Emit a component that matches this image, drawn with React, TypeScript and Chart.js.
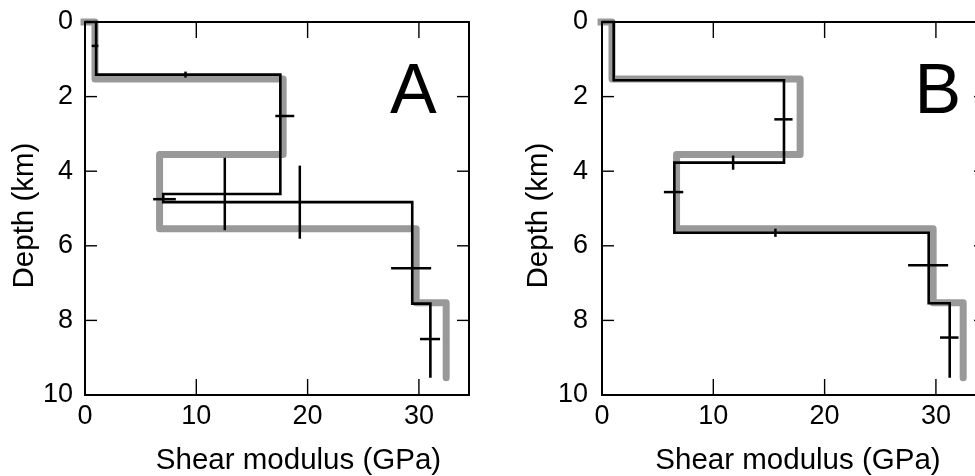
import { useEffect, useRef } from "react";
import { Chart, registerables } from "chart.js";

Chart.register(...registerables);

const FONT = '"Liberation Sans", Arial, Helvetica, sans-serif';

// Axis ranges
const modulusMax = 34.5;
const depthMax = 10;
const modulusStep = 10;
const depthStep = 2;

// Reference (true) layered model, shared by both panels
const trueModulus = [0.9, 17.8, 6.7, 29.75, 32.45];
const trueInterfaces = [1.53, 3.55, 5.54, 7.53];
const trueBottom = 9.54;

// Panel A: inverted model
const modulusA = [1.0, 17.55, 7.03, 29.4, 31.03];
const interfacesA = [1.41, 4.61, 4.83, 7.55];
const bottomA = 9.54;
// Panel A: modulus uncertainty bars (centre, depth, half-width)
const modBarXA = [0.9, 17.95, 7.14, 29.3, 31.0];
const modBarDepthA = [0.64, 2.52, 4.75, 6.6, 8.5];
const modBarHalfA = [0.3, 0.85, 1.02, 1.8, 0.9];
// Panel A: interface depth uncertainty bars (modulus, depth, half-height)
const depthBarXA = [9.03, 12.56, 19.3];
const depthBarDepthA = [1.41, 4.61, 4.83];
const depthBarHalfA = [0.08, 0.97, 0.98];

// Panel B: inverted model
const modulusB = [1.05, 16.35, 6.5, 29.35, 31.24];
const interfacesB = [1.56, 3.77, 5.65, 7.54];
const bottomB = 9.54;
const modBarXB = [16.3, 6.43, 29.3, 31.2];
const modBarDepthB = [2.61, 4.56, 6.52, 8.46];
const modBarHalfB = [0.82, 0.87, 1.8, 0.83];
const depthBarXB = [11.78, 15.58];
const depthBarDepthB = [3.77, 5.65];
const depthBarHalfB = [0.19, 0.11];

type Pt = { x: number; y: number };

// Build a depth profile as a staircase: constant modulus within each layer.
function staircase(mod: number[], iface: number[], bottom: number, x0: number): Pt[] {
  const pts: Pt[] = [
    { x: x0, y: 0 },
    { x: mod[0], y: 0 },
  ];
  for (let i = 0; i < iface.length; i++) {
    pts.push({ x: mod[i], y: iface[i] }, { x: mod[i + 1], y: iface[i] });
  }
  pts.push({ x: mod[mod.length - 1], y: bottom });
  return pts;
}

type PanelProps = {
  left: number;
  width: number;
  letter: string;
  letterX: number;
  letterDepth: number;
  yAxisWidth: number;
  padRight: number;
  yTickPad: number;
  xTitleShift: number;
  yTitleGap: number;
  modulus: number[];
  interfaces: number[];
  bottom: number;
  modBarX: number[];
  modBarDepth: number[];
  modBarHalf: number[];
  depthBarX: number[];
  depthBarDepth: number[];
  depthBarHalf: number[];
};

function Panel(p: PanelProps) {
  const ref = useRef<HTMLCanvasElement | null>(null);

  useEffect(() => {
    const canvas = ref.current;
    if (!canvas) return;

    const decor = {
      id: "decor",
      afterDatasetsDraw(chart: any) {
        const { ctx, chartArea: a } = chart;
        const xs = chart.scales.x;
        const ys = chart.scales.y;
        const seg = (x1: number, y1: number, x2: number, y2: number) => {
          ctx.beginPath();
          ctx.moveTo(x1, y1);
          ctx.lineTo(x2, y2);
          ctx.stroke();
        };
        ctx.save();
        ctx.strokeStyle = "#000";
        ctx.lineCap = "butt";

        // uncertainty bars
        ctx.lineWidth = 2.5;
        p.modBarX.forEach((m, i) => {
          const py = ys.getPixelForValue(p.modBarDepth[i]);
          seg(
            xs.getPixelForValue(m - p.modBarHalf[i]),
            py,
            xs.getPixelForValue(m + p.modBarHalf[i]),
            py
          );
        });
        p.depthBarX.forEach((m, i) => {
          const px = xs.getPixelForValue(m);
          seg(
            px,
            ys.getPixelForValue(p.depthBarDepth[i] - p.depthBarHalf[i]),
            px,
            ys.getPixelForValue(p.depthBarDepth[i] + p.depthBarHalf[i])
          );
        });

        // frame
        ctx.lineWidth = 2;
        ctx.strokeRect(a.left, a.top, a.right - a.left, a.bottom - a.top);

        // inward tick marks on all four sides
        ctx.lineWidth = 1.4;
        xs.ticks.forEach((t: any) => {
          const px = xs.getPixelForValue(t.value);
          seg(px, a.bottom, px, a.bottom - 16);
          seg(px, a.top, px, a.top + 16);
        });
        ys.ticks.forEach((t: any) => {
          const py = ys.getPixelForValue(t.value);
          seg(a.left, py, a.left + 12, py);
          seg(a.right, py, a.right - 12, py);
        });

        // axis titles
        ctx.fillStyle = "#000";
        ctx.font = `29.5px ${FONT}`;
        ctx.textAlign = "center";
        ctx.textBaseline = "alphabetic";
        ctx.fillText(
          "Shear modulus (GPa)",
          (a.left + a.right) / 2 + p.xTitleShift,
          a.bottom + 73.5
        );
        ctx.save();
        ctx.translate(a.left - p.yTitleGap, (a.top + a.bottom) / 2 + 7);
        ctx.rotate(-Math.PI / 2);
        ctx.fillText("Depth (km)", 0, 0);
        ctx.restore();

        // panel letter
        ctx.font = `70px ${FONT}`;
        ctx.textAlign = "left";
        ctx.fillText(
          p.letter,
          xs.getPixelForValue(p.letterX),
          ys.getPixelForValue(p.letterDepth)
        );
        ctx.restore();
      },
    };

    const chart = new Chart(canvas, {
      type: "scatter",
      data: {
        datasets: [
          {
            label: "inverted",
            data: staircase(p.modulus, p.interfaces, p.bottom, 0),
            showLine: true,
            borderColor: "#000",
            borderWidth: 2.6,
            borderJoinStyle: "miter",
            borderCapStyle: "butt",
            pointRadius: 0,
            pointHoverRadius: 0,
            clip: false,
            order: 0,
          },
          {
            label: "true",
            data: staircase(trueModulus, trueInterfaces, trueBottom, -0.4),
            showLine: true,
            borderColor: "#999999",
            borderWidth: 7,
            borderJoinStyle: "round",
            borderCapStyle: "butt",
            pointRadius: 0,
            pointHoverRadius: 0,
            clip: false,
            order: 1,
          },
        ],
      },
      options: {
        animation: false,
        responsive: false,
        devicePixelRatio: 1,
        events: [],
        layout: { padding: { left: 0, top: 22, right: p.padRight, bottom: 0 } },
        plugins: {
          legend: { display: false },
          tooltip: { enabled: false },
        },
        scales: {
          x: {
            type: "linear",
            position: "bottom",
            min: 0,
            max: modulusMax,
            grid: { display: false, drawTicks: false },
            border: { display: false },
            ticks: {
              stepSize: modulusStep,
              includeBounds: false,
              color: "#000",
              padding: 5.5,
              maxRotation: 0,
              font: { family: FONT, size: 27 },
            },
            afterFit: (s: any) => {
              s.height = 81;
              s.paddingLeft = 0;
              s.paddingRight = 0;
            },
          },
          y: {
            type: "linear",
            position: "left",
            reverse: true,
            min: 0,
            max: depthMax,
            grid: { display: false, drawTicks: false },
            border: { display: false },
            ticks: {
              stepSize: depthStep,
              color: "#000",
              padding: p.yTickPad,
              font: { family: FONT, size: 27 },
            },
            afterFit: (s: any) => {
              s.width = p.yAxisWidth;
              s.paddingTop = 0;
              s.paddingBottom = 0;
            },
          },
        },
      },
      plugins: [decor],
    } as any);

    return () => chart.destroy();
  }, []);

  return (
    <canvas
      ref={ref}
      width={p.width}
      height={476}
      style={{ position: "absolute", left: p.left, top: 0, width: p.width, height: 476 }}
    />
  );
}

export default function App() {
  return (
    <div
      style={{
        position: "fixed",
        left: 0,
        top: 0,
        width: 975,
        height: 476,
        overflow: "hidden",
        background: "#fff",
      }}
    >
      <Panel
        left={0}
        width={490}
        letter="A"
        letterX={27.4}
        letterDepth={2.45}
        yAxisWidth={85}
        padRight={21}
        yTickPad={12}
        xTitleShift={21.5}
        yTitleGap={52.3}
        modulus={modulusA}
        interfaces={interfacesA}
        bottom={bottomA}
        modBarX={modBarXA}
        modBarDepth={modBarDepthA}
        modBarHalf={modBarHalfA}
        depthBarX={depthBarXA}
        depthBarDepth={depthBarDepthA}
        depthBarHalf={depthBarHalfA}
      />
      <Panel
        left={490}
        width={510}
        letter="B"
        letterX={28.07}
        letterDepth={2.45}
        yAxisWidth={112}
        padRight={14}
        yTickPad={14}
        xTitleShift={4}
        yTitleGap={55.3}
        modulus={modulusB}
        interfaces={interfacesB}
        bottom={bottomB}
        modBarX={modBarXB}
        modBarDepth={modBarDepthB}
        modBarHalf={modBarHalfB}
        depthBarX={depthBarXB}
        depthBarDepth={depthBarDepthB}
        depthBarHalf={depthBarHalfB}
      />
    </div>
  );
}
